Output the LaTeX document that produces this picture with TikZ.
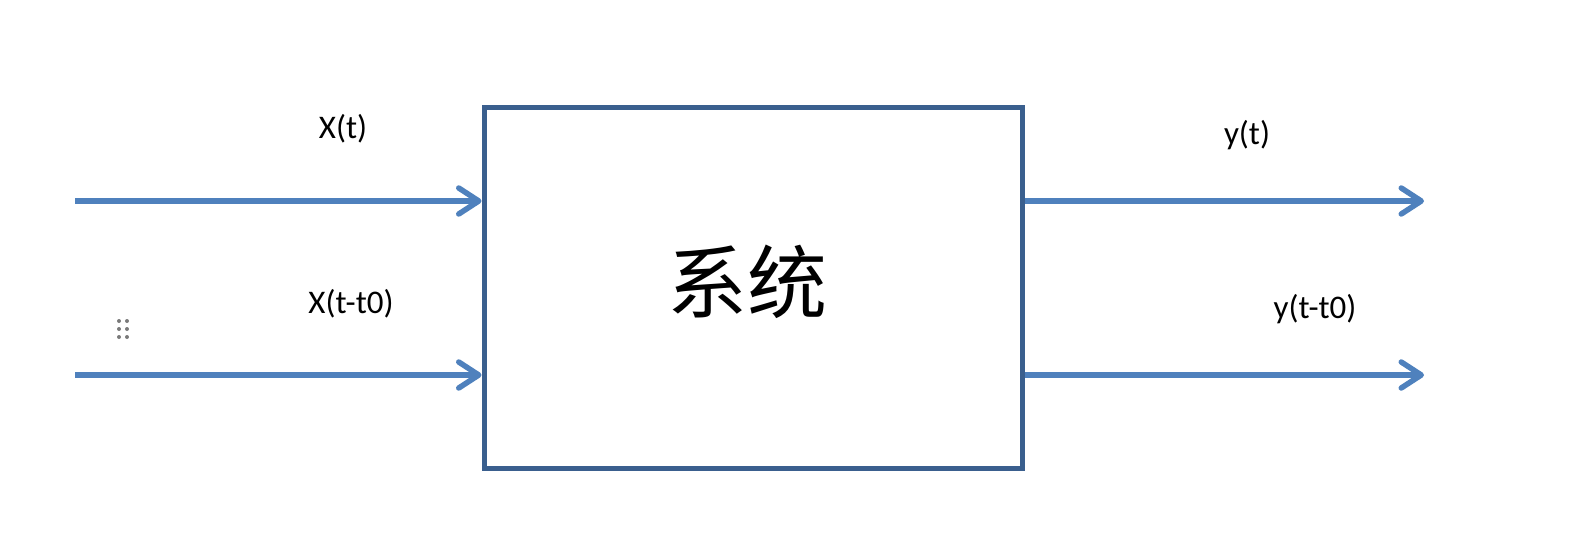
\documentclass[tikz,border=0pt]{standalone}
\usepackage{fontspec}
\setmainfont{Carlito}
\newfontfamily\cjk{Noto Sans CJK SC}
\usetikzlibrary{arrows.meta}
\definecolor{arrowblue}{HTML}{4F81BD}
\definecolor{boxblue}{HTML}{3A5F8E}
\definecolor{dotgray}{HTML}{7A7A7A}
\begin{document}
\begin{tikzpicture}[x=1pt,y=-1pt,
  sig/.style={draw=arrowblue,line width=5.5pt,-{Straight Barb[length=20pt,width=26pt,round]}},
  sysbox/.style={draw=boxblue,line width=5pt,minimum width=538pt,minimum height=361pt,inner sep=0pt},
  lbl/.style={font=\fontsize{33}{36}\selectfont,inner sep=0pt,anchor=base}]
\useasboundingbox (0,0) rectangle (1576,549);
\node[sysbox] (sys) at (753,287.5) {};
\node[font=\cjk\fontsize{80}{88}\selectfont] (txt) at (747,282) {系统};
\coordinate (in1) at (75,201);
\coordinate (in2) at (75,375);
\coordinate (out1) at (1424,201);
\coordinate (out2) at (1424,375);
\draw[sig] (in1) -- (sys.west |- in1);
\draw[sig] (in2) -- (sys.west |- in2);
\draw[sig] (sys.east |- out1) -- (out1);
\draw[sig] (sys.east |- out2) -- (out2);
\node[lbl] (l1) at (343,138) {X(t)};
\node[lbl] (l2) at (351,313) {X(t-t0)};
\node[lbl] (l3) at (1247,144) {y(t)};
\node[lbl] (l4) at (1315,318) {y(t-t0)};
\foreach \yy in {321,329,337} {
  \fill[dotgray] (119,\yy) circle (2pt);
  \fill[dotgray] (127,\yy) circle (2pt);
}
\end{tikzpicture}
\end{document}
